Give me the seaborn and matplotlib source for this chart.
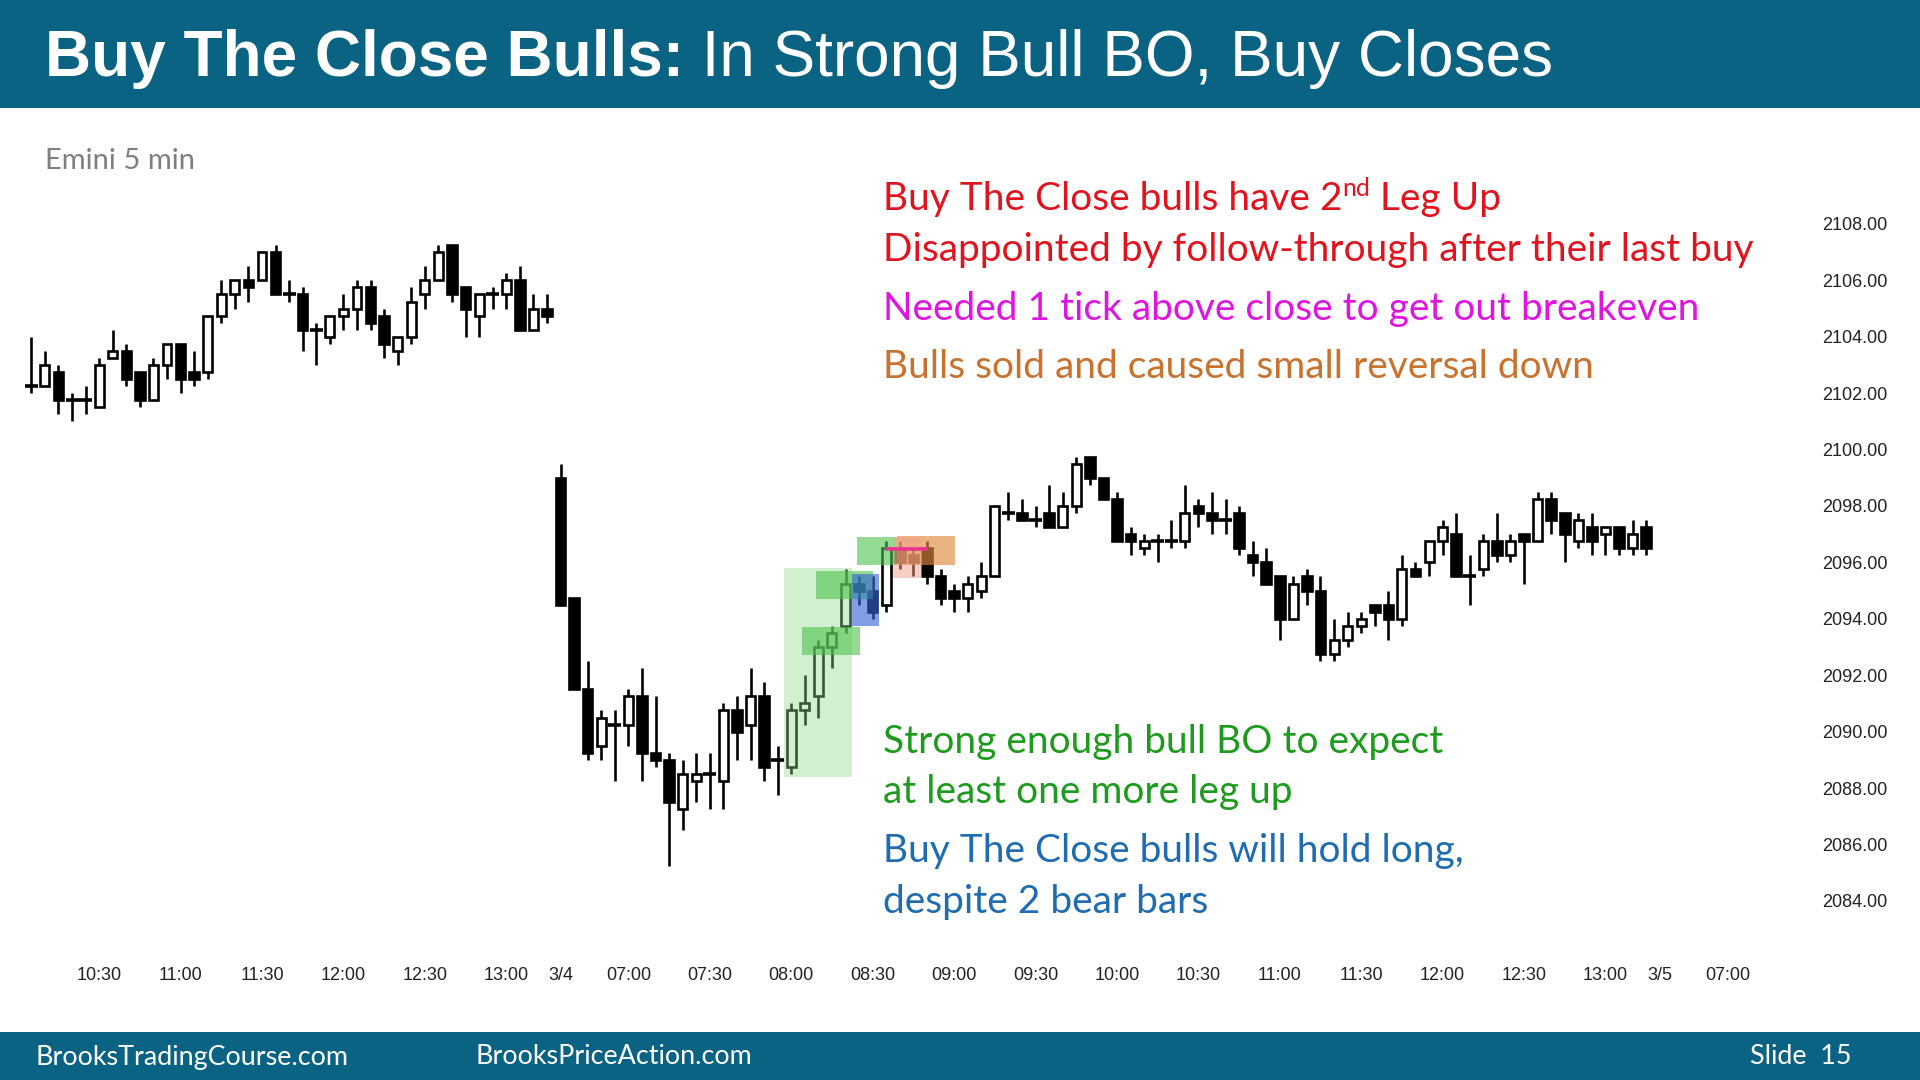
import matplotlib
matplotlib.use("Agg")
import numpy as np
import pandas as pd
import matplotlib.pyplot as plt
from matplotlib.patches import Rectangle
import seaborn as sns

# Emini 5 min bars, session 1 (10:05 - 13:15)
S1_OPEN = [2102.25, 2102.25, 2102.75, 2101.75, 2101.75, 2101.5, 2103.25, 2103.5, 2102.75, 2101.75,
           2103.0, 2103.75, 2102.75, 2102.75, 2104.75, 2105.5, 2106.0, 2106.0, 2107.0, 2105.5,
           2105.5, 2104.25, 2104.0, 2104.75, 2105.0, 2105.75, 2104.75, 2103.5, 2104.0, 2105.5,
           2106.0, 2107.25, 2105.75, 2104.75, 2105.5, 2105.5, 2106.0, 2104.25, 2105.0]
S1_HIGH = [2104.0, 2103.5, 2103.0, 2102.0, 2102.25, 2103.25, 2104.25, 2103.75, 2102.75, 2103.25,
           2103.75, 2103.75, 2103.5, 2104.75, 2106.0, 2106.0, 2106.5, 2107.0, 2107.25, 2106.0,
           2105.75, 2104.5, 2104.75, 2105.5, 2106.0, 2106.0, 2105.0, 2104.0, 2105.75, 2106.5,
           2107.25, 2107.25, 2105.75, 2105.5, 2105.75, 2106.25, 2106.5, 2105.5, 2105.5]
S1_LOW = [2102.0, 2102.25, 2101.25, 2101.0, 2101.25, 2101.5, 2103.25, 2102.25, 2101.5, 2101.75,
          2102.5, 2102.0, 2102.25, 2102.5, 2104.5, 2105.0, 2105.25, 2106.0, 2105.5, 2105.25,
          2103.5, 2103.0, 2103.75, 2104.25, 2104.25, 2104.25, 2103.25, 2103.0, 2103.75, 2105.0,
          2106.0, 2105.25, 2104.0, 2104.0, 2105.0, 2105.0, 2104.25, 2104.25, 2104.5]
S1_CLOSE = [2102.25, 2103.0, 2101.75, 2101.75, 2101.75, 2103.0, 2103.5, 2102.5, 2101.75, 2103.0,
            2103.75, 2102.5, 2102.5, 2104.75, 2105.5, 2106.0, 2105.75, 2107.0, 2105.5, 2105.5,
            2104.25, 2104.25, 2104.75, 2105.0, 2105.75, 2104.5, 2103.75, 2104.0, 2105.25, 2106.0,
            2107.0, 2105.5, 2105.0, 2105.5, 2105.5, 2106.0, 2104.25, 2105.0, 2104.75]

# session 2, 3/4 (06:35 - 13:15)
S2_OPEN = [2099.0, 2094.75, 2091.5, 2089.5, 2090.25, 2090.25, 2091.25, 2089.25, 2089.0, 2087.25,
           2088.25, 2088.5, 2088.25, 2090.75, 2090.25, 2091.25, 2089.0, 2088.75, 2090.75, 2091.25,
           2093.0, 2093.75, 2095.25, 2095.0, 2094.5, 2096.5, 2096.25, 2096.5, 2095.5, 2095.0,
           2094.75, 2095.0, 2095.5, 2097.75, 2097.75, 2097.5, 2097.75, 2097.25, 2098.0, 2099.75,
           2099.0, 2098.25, 2097.0, 2096.5, 2096.75, 2096.75, 2096.75, 2098.0, 2097.75, 2097.5,
           2097.75, 2096.25, 2096.0, 2095.5, 2094.0, 2095.5, 2095.0, 2092.75, 2093.25, 2093.75,
           2094.5, 2094.5, 2094.0, 2095.75, 2096.0, 2096.75, 2097.0, 2095.5, 2095.75, 2096.75,
           2096.25, 2097.0, 2096.75, 2098.25, 2097.75, 2096.75, 2097.25, 2097.0, 2097.25, 2096.5,
           2097.25]
S2_HIGH = [2099.5, 2094.75, 2092.5, 2090.75, 2090.75, 2091.5, 2092.25, 2091.25, 2089.25, 2089.0,
           2089.25, 2089.25, 2091.0, 2091.25, 2092.25, 2091.75, 2089.5, 2091.0, 2092.0, 2093.25,
           2093.75, 2095.75, 2095.5, 2095.5, 2096.75, 2096.75, 2096.5, 2096.75, 2095.75, 2095.25,
           2095.5, 2096.0, 2098.0, 2098.5, 2098.25, 2098.0, 2098.75, 2098.5, 2099.75, 2099.75,
           2099.0, 2098.5, 2097.25, 2097.0, 2097.0, 2097.5, 2098.75, 2098.25, 2098.5, 2098.25,
           2098.0, 2096.75, 2096.5, 2095.5, 2095.5, 2095.75, 2095.5, 2094.0, 2094.25, 2094.25,
           2094.5, 2095.0, 2096.25, 2096.0, 2096.75, 2097.5, 2097.75, 2096.25, 2097.0, 2097.75,
           2097.0, 2097.0, 2098.5, 2098.5, 2097.75, 2097.75, 2097.75, 2097.25, 2097.25, 2097.5,
           2097.5]
S2_LOW = [2094.5, 2091.5, 2089.0, 2089.0, 2088.25, 2089.5, 2088.25, 2088.75, 2085.25, 2086.5,
          2087.5, 2087.25, 2087.25, 2089.0, 2089.0, 2088.25, 2087.75, 2088.5, 2090.25, 2090.5,
          2092.25, 2093.5, 2094.5, 2094.0, 2094.25, 2095.75, 2095.5, 2095.25, 2094.5, 2094.25,
          2094.25, 2094.75, 2095.5, 2097.5, 2097.5, 2097.25, 2097.25, 2097.25, 2097.75, 2098.75,
          2098.25, 2096.75, 2096.25, 2096.25, 2096.0, 2096.5, 2096.5, 2097.25, 2097.0, 2097.0,
          2096.25, 2095.5, 2095.25, 2093.25, 2094.0, 2094.5, 2092.5, 2092.5, 2093.0, 2093.5,
          2093.75, 2093.25, 2093.75, 2095.5, 2095.5, 2096.25, 2095.5, 2094.5, 2095.5, 2096.0,
          2096.0, 2095.25, 2096.75, 2097.0, 2096.0, 2096.5, 2096.25, 2096.25, 2096.25, 2096.25,
          2096.25]
S2_CLOSE = [2094.5, 2091.5, 2089.25, 2090.5, 2090.25, 2091.25, 2089.25, 2089.0, 2087.5, 2088.5,
            2088.5, 2088.5, 2090.75, 2090.0, 2091.25, 2088.75, 2089.0, 2090.75, 2091.0, 2093.0,
            2093.5, 2095.25, 2095.0, 2094.25, 2096.5, 2096.0, 2096.0, 2095.5, 2094.75, 2094.75,
            2095.25, 2095.5, 2098.0, 2097.75, 2097.5, 2097.5, 2097.25, 2098.0, 2099.5, 2099.0,
            2098.25, 2096.75, 2096.75, 2096.75, 2096.75, 2096.75, 2097.75, 2097.75, 2097.5, 2097.5,
            2096.5, 2096.0, 2095.25, 2094.0, 2095.25, 2095.0, 2092.75, 2093.25, 2093.75, 2094.0,
            2094.25, 2094.0, 2095.75, 2095.5, 2096.75, 2097.25, 2095.5, 2095.5, 2096.75, 2096.25,
            2096.75, 2096.75, 2098.25, 2097.5, 2097.0, 2097.5, 2096.75, 2097.25, 2096.5, 2097.0,
            2096.5]

# time axis (bar index of each label)
TIME_TICK_BARS = [5, 11, 17, 23, 29, 35, 39, 44, 50, 56, 62, 68, 74, 80, 86, 92, 98, 104, 110, 116, 120, 125]
TIME_TICK_LABELS = ["10:30", "11:00", "11:30", "12:00", "12:30", "13:00", "3/4", "07:00", "07:30",
                    "08:00", "08:30", "09:00", "09:30", "10:00", "10:30", "11:00", "11:30", "12:00",
                    "12:30", "13:00", "3/5", "07:00"]
PRICE_TICKS = [2084, 2086, 2088, 2090, 2092, 2094, 2096, 2098, 2100, 2102, 2104, 2106, 2108]

# highlight boxes (bar index from/to, price from/to)
BOX_X0 = [55.5, 56.8, 57.8, 60.45, 60.85, 63.8, 63.5]
BOX_X1 = [60.5, 61.1, 62.0, 62.5, 63.8, 68.1, 65.6]
BOX_LO = [2088.4, 2092.7, 2094.7, 2093.75, 2095.9, 2095.9, 2095.45]
BOX_HI = [2095.8, 2093.7, 2095.7, 2095.6, 2096.9, 2096.95, 2096.9]
BOX_COLOR = ["#8fd88f", "#4cc44c", "#4cc44c", "#3563d8", "#4cc44c", "#e08a40", "#f4a08c"]
BOX_ALPHA = [0.4, 0.6, 0.6, 0.62, 0.6, 0.65, 0.5]

BREAKEVEN_PRICE = 2096.47
BREAKEVEN_BARS = (62.9, 66.1)

W, H = 1920, 1080
TEAL = "#0b6383"
RED = "#e0141e"
MAGENTA = "#e014e0"
ORANGE = "#c8722d"
GREEN = "#1e9b1e"
BLUE = "#1f6cb0"


def fx(px):
    return px / W


def fy(py):
    return 1 - py / H


def text_runs(fig, renderer, x_px, y_px, runs):
    """Place text pieces one after another on the same line."""
    for s, dy, kw in runs:
        t = fig.text(fx(x_px), fy(y_px - dy), s, va="baseline", ha="left", **kw)
        x_px = t.get_window_extent(renderer).x1


def main():
    sns.set_theme(style="white")
    plt.rcParams["font.family"] = ["Liberation Sans", "DejaVu Sans"]

    df = pd.DataFrame({
        "open": S1_OPEN + S2_OPEN,
        "high": S1_HIGH + S2_HIGH,
        "low": S1_LOW + S2_LOW,
        "close": S1_CLOSE + S2_CLOSE,
    })
    df["bar"] = np.arange(len(df))
    up = df[df.close > df.open]
    down = df[df.close < df.open]
    flat = df[df.close == df.open]

    fig = plt.figure(figsize=(W / 100, H / 100), dpi=100)
    fig.patch.set_facecolor("white")
    ax = fig.add_axes([0, fy(955), fx(1815), (955 - 110) / H])

    ax.vlines(df.bar, df.low, df.high, color="black", lw=1.9, zorder=2)
    ax.bar(up.bar, up.close - up.open, bottom=up.open, width=0.66,
           facecolor="white", edgecolor="black", lw=1.9, zorder=3)
    ax.bar(down.bar, down.open - down.close, bottom=down.close, width=0.7,
           facecolor="black", edgecolor="black", lw=1.9, zorder=3)
    ax.hlines(flat.close, flat.bar - 0.48, flat.bar + 0.48, color="black", lw=2.6, zorder=3)

    for x0, x1, lo, hi, c, a in zip(BOX_X0, BOX_X1, BOX_LO, BOX_HI, BOX_COLOR, BOX_ALPHA):
        ax.add_patch(Rectangle((x0, lo), x1 - x0, hi - lo, facecolor=c, alpha=a,
                               edgecolor="none", zorder=4))
    ax.hlines(BREAKEVEN_PRICE, *BREAKEVEN_BARS, color="#e8348c", lw=2.6, zorder=5)

    ax.set_xlim(-2.307, 131.44)
    ax.set_ylim(2082.08, 2112.04)
    ax.set_xticks(TIME_TICK_BARS, TIME_TICK_LABELS)
    ax.yaxis.tick_right()
    ax.set_yticks(PRICE_TICKS, [f"{p:.2f}" for p in PRICE_TICKS])
    ax.tick_params(axis="x", length=0, pad=9, labelsize=13, colors="#222222")
    ax.tick_params(axis="y", length=0, pad=5, labelsize=13, colors="#222222")
    ax.grid(False)
    for sp in ax.spines.values():
        sp.set_visible(False)
    ax.set_facecolor("white")

    # header and footer bands
    fig.add_artist(Rectangle((0, fy(108)), 1, 108 / H, transform=fig.transFigure,
                             facecolor=TEAL, edgecolor="none", zorder=0))
    fig.add_artist(Rectangle((0, 0), 1, (H - 1032) / H, transform=fig.transFigure,
                             facecolor=TEAL, edgecolor="none", zorder=0))

    renderer = fig.canvas.get_renderer()
    title_font = dict(family=["Liberation Sans"], fontsize=46, color="white")
    text_runs(fig, renderer, 45, 76, [
        ("Buy The Close Bulls:", 0, dict(fontweight="bold", **title_font)),
        (" In Strong Bull BO, Buy Closes", 0, title_font),
    ])

    note_font = ["Lato", "DejaVu Sans"]
    fig.text(fx(45), fy(169), "Emini 5 min", fontsize=21, color="#7f7f7f",
             family=note_font, va="baseline")

    big = dict(family=note_font, fontsize=28)
    text_runs(fig, renderer, 883, 210, [
        ("Buy The Close bulls have 2", 0, dict(color=RED, **big)),
        ("nd", 14, dict(color=RED, family=note_font, fontsize=18)),
        (" Leg Up", 0, dict(color=RED, **big)),
    ])
    fig.text(fx(883), fy(261), "Disappointed by follow-through after their last buy",
             color=RED, va="baseline", **big)
    fig.text(fx(883), fy(320), "Needed 1 tick above close to get out breakeven",
             color=MAGENTA, va="baseline", **big)
    fig.text(fx(883), fy(378), "Bulls sold and caused small reversal down",
             color=ORANGE, va="baseline", **big)
    fig.text(fx(883), fy(753), "Strong enough bull BO to expect",
             color=GREEN, va="baseline", **big)
    fig.text(fx(883), fy(803), "at least one more leg up",
             color=GREEN, va="baseline", **big)
    fig.text(fx(883), fy(862), "Buy The Close bulls will hold long,",
             color=BLUE, va="baseline", **big)
    fig.text(fx(883), fy(913), "despite 2 bear bars",
             color=BLUE, va="baseline", **big)

    foot = dict(family=note_font, fontsize=19.4, color="white", va="center")
    fig.text(fx(35), fy(1057), "BrooksTradingCourse.com", **foot)
    fig.text(fx(475), fy(1057), "BrooksPriceAction.com", **foot)
    fig.text(fx(1851), fy(1057), "Slide  15", ha="right", **foot)

    fig.savefig("out.png", dpi=100, facecolor="white")


if __name__ == "__main__":
    main()
